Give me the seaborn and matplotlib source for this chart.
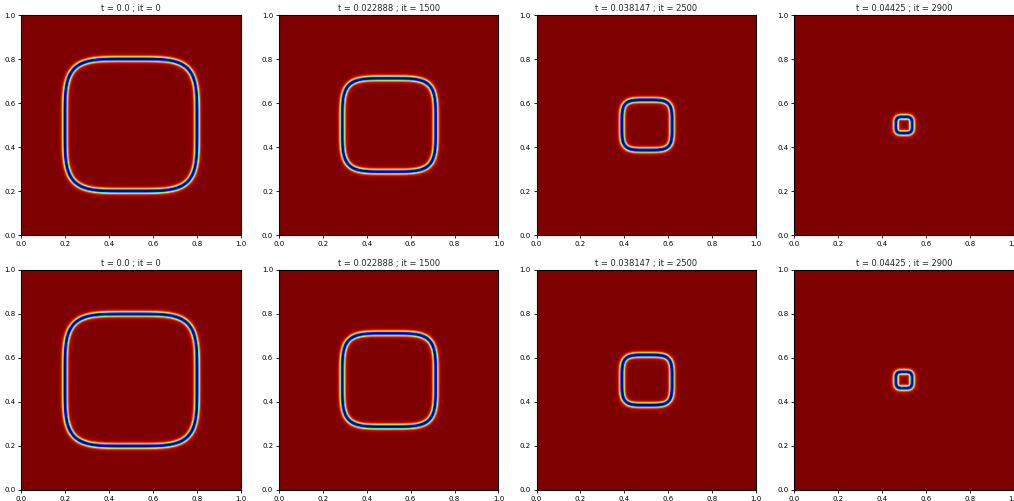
import numpy as np
import matplotlib
matplotlib.use("Agg")
import matplotlib.pyplot as plt
import seaborn as sns

# Snapshot metadata
times = [0.0, 0.022888, 0.038147, 0.04425]
iterations = [0, 1500, 2500, 2900]
# Shrinking superellipse interface: radius and exponent per snapshot
radii = [0.300, 0.212, 0.114, 0.037]
exponents = [4.5, 4.5, 4.3, 3.8]
center = (0.5, 0.5)
width = 0.0086
n_grid = 256
tick_vals = [0.0, 0.2, 0.4, 0.6, 0.8, 1.0]

sns.set_theme(style="ticks")
plt.rcParams["font.family"] = ["DejaVu Sans"]


def field(r, n):
    s = (np.arange(n_grid) + 0.5) / n_grid
    X, Y = np.meshgrid(s, s)
    ax_ = np.abs(X - center[0]) + 1e-12
    ay_ = np.abs(Y - center[1]) + 1e-12
    F = (ax_ ** n + ay_ ** n) ** (1.0 / n)
    grad = np.sqrt(ax_ ** (2 * n - 2) + ay_ ** (2 * n - 2)) / F ** (n - 1)
    d = (F - r) / grad
    return np.tanh(np.abs(d) / width) ** 3


fig, axes = plt.subplots(2, 4, figsize=(10.14, 5.01), dpi=100)
fig.subplots_adjust(left=0.0207, right=1.0, bottom=0.022, top=0.970,
                    wspace=0.173, hspace=0.159)

for row in range(2):
    for j in range(4):
        ax = axes[row, j]
        Z = field(radii[j], exponents[j])
        ax.imshow(Z, cmap="jet", origin="lower", extent=[0, 1, 0, 1],
                  vmin=0, vmax=1, aspect="auto")
        ax.set_xticks(tick_vals)
        ax.set_yticks(tick_vals)
        ax.set_xticklabels([f"{v:.1f}" for v in tick_vals])
        ax.set_yticklabels([f"{v:.1f}" for v in tick_vals])
        ax.tick_params(labelsize=5, length=2.5, width=0.6, pad=1.5, colors="black")
        for sp in ax.spines.values():
            sp.set_linewidth(0.8)
            sp.set_color("black")
        ax.set_title(f"t = {times[j]} ; it = {iterations[j]}", fontsize=6, pad=3)

fig.savefig("out.png", dpi=100)
